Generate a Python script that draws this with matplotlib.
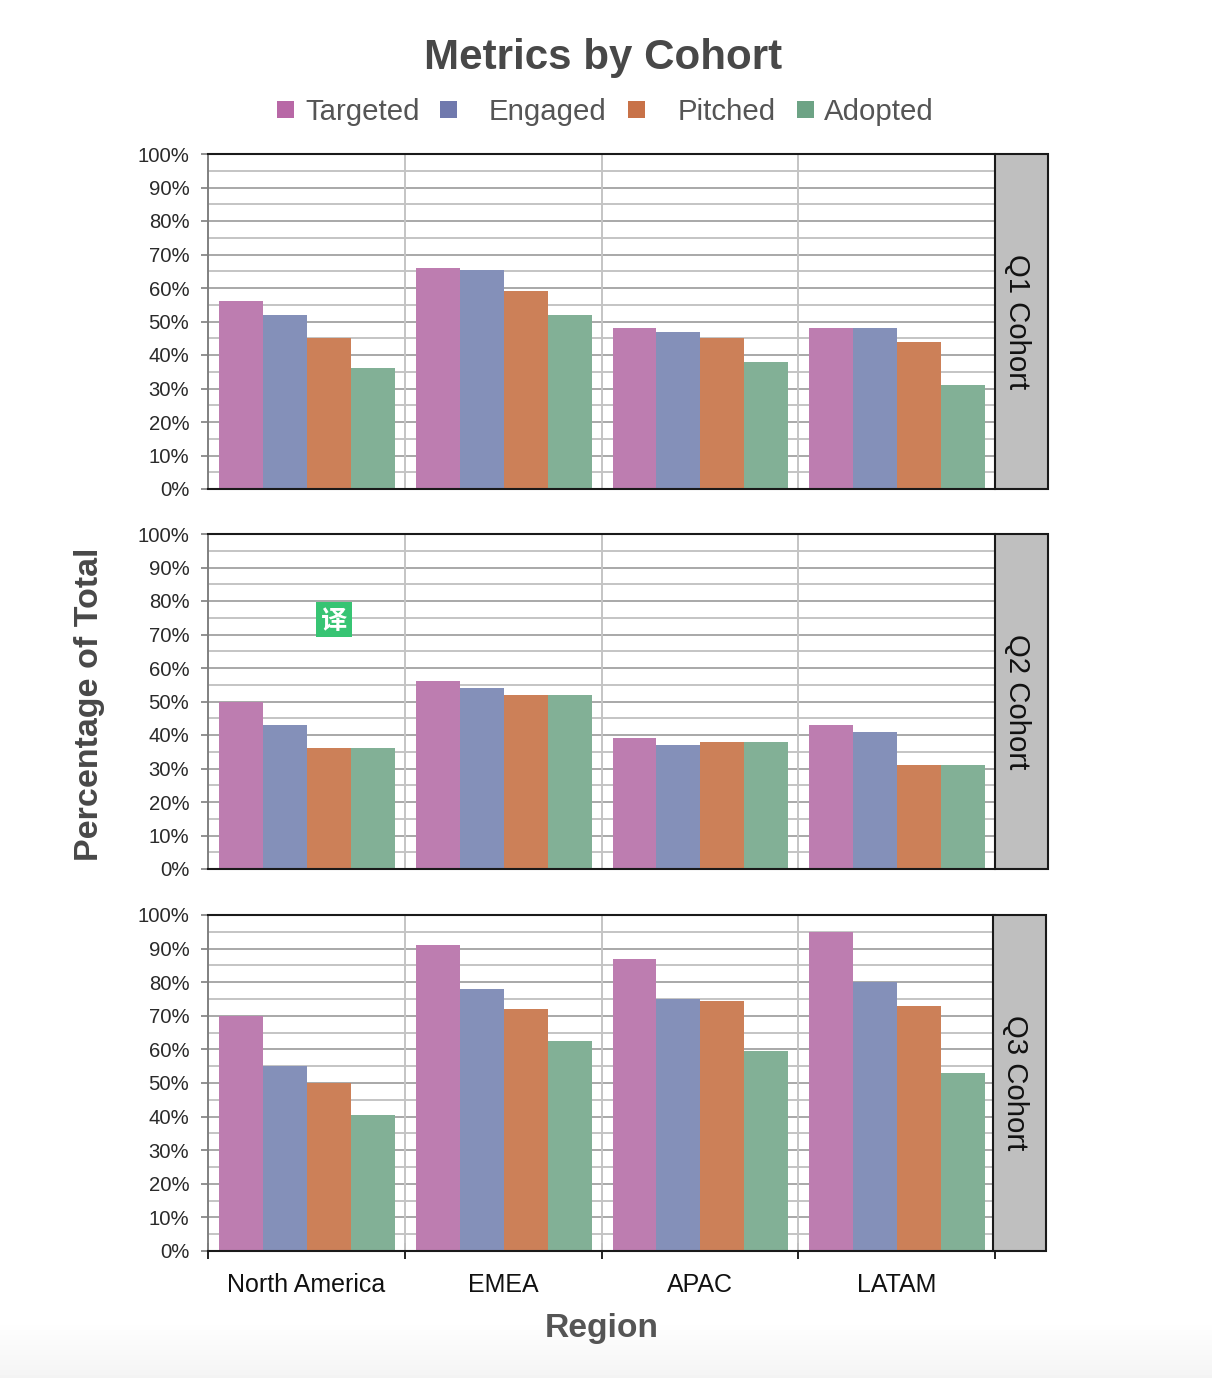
import numpy as np
import matplotlib
matplotlib.use("Agg")
import matplotlib.pyplot as plt
from matplotlib.patches import Rectangle

plt.rcParams['font.family'] = ['Liberation Sans', 'DejaVu Sans']

W, H = 1212, 1378

regions = ["North America", "EMEA", "APAC", "LATAM"]
metrics = ["Targeted", "Engaged", "Pitched", "Adopted"]
cohorts = ["Q1 Cohort", "Q2 Cohort", "Q3 Cohort"]

q1_targeted = [56, 66, 48, 48]
q1_engaged = [52, 65.5, 47, 48]
q1_pitched = [45, 59, 45, 44]
q1_adopted = [36, 52, 38, 31]

q2_targeted = [50, 56, 39, 43]
q2_engaged = [43, 54, 37, 41]
q2_pitched = [36, 52, 38, 31]
q2_adopted = [36, 52, 38, 31]

q3_targeted = [70, 91, 87, 95]
q3_engaged = [55, 78, 75, 80]
q3_pitched = [50, 72, 74.5, 73]
q3_adopted = [40.5, 62.5, 59.5, 53]

cohort_values = [
    [q1_targeted, q1_engaged, q1_pitched, q1_adopted],
    [q2_targeted, q2_engaged, q2_pitched, q2_adopted],
    [q3_targeted, q3_engaged, q3_pitched, q3_adopted],
]

bar_colors = ["#BD7DB0", "#8490B9", "#CC8058", "#82B096"]
legend_colors = ["#B868A6", "#7079AD", "#C87248", "#6DA385"]
legend_box_x = [277, 440, 628, 797]
legend_text_x = [305, 489, 678, 824]


def axes_px(fig, left, top, right, bottom):
    return fig.add_axes([left / W, 1 - bottom / H, (right - left) / W, (bottom - top) / H])


def draw_panel(ax, values, label, last, strip_left, strip_right):
    x = np.arange(len(regions))
    width = 0.2235
    ax.set_axisbelow(True)
    for i, vals in enumerate(values):
        ax.bar(x + 0.003 + (i - 1.5) * width, vals, width, color=bar_colors[i], linewidth=0, zorder=3)

    ax.set_xlim(-0.5, 3.5)
    ax.set_ylim(0, 100)
    ax.set_yticks(np.arange(0, 101, 10))
    ax.set_yticks(np.arange(5, 100, 10), minor=True)
    ax.set_yticklabels([str(v) + "%" for v in range(0, 101, 10)], fontsize=14.6, color="#2a2a2a")
    ax.grid(axis='y', which='major', color="#a8a8a8", linewidth=1.4, zorder=0)
    ax.grid(axis='y', which='minor', color="#c4c4c4", linewidth=1.4, zorder=0)
    for b in [0.5, 1.5, 2.5]:
        ax.axvline(b, color="#c4c4c4", linewidth=1.4, zorder=1)

    ax.tick_params(axis='y', which='major', length=5, width=1.4, color="#909090", pad=8.5)
    ax.tick_params(axis='y', which='minor', length=0)

    ax.set_xticks(x)
    if last:
        ax.set_xticklabels(regions, fontsize=18, color="#111111")
        ax.set_xticks([-0.5, 0.5, 1.5, 2.5, 3.5], minor=True)
        ax.tick_params(axis='x', which='minor', length=11, width=1.4, color="#222222", direction='inout')
        ax.tick_params(axis='x', which='major', length=0, pad=15.5)
    else:
        ax.set_xticklabels([])
        ax.tick_params(axis='x', which='major', length=0)

    ax.spines['left'].set_color("#808080")
    ax.spines['left'].set_linewidth(1.4)
    for s in ['top', 'bottom']:
        ax.spines[s].set_color("#1a1a1a")
        ax.spines[s].set_linewidth(1.5)
        ax.spines[s].set_zorder(4)
    ax.spines['right'].set_visible(False)

    # grey facet strip on the right
    trans = ax.transAxes
    ax_w = 995 - 208
    x0 = (strip_left - 208) / ax_w
    x1 = (strip_right - 208) / ax_w
    ax.add_patch(Rectangle((x0, 0), x1 - x0, 1, transform=trans, facecolor="#BFBFBF",
                           edgecolor="#1a1a1a", linewidth=1.5, clip_on=False, zorder=5))
    ax.text((x0 + x1) / 2 - 4 / ax_w, 0.5, label, transform=trans, rotation=-90, ha='center', va='center',
            fontsize=21.2, color="#111111", zorder=6)


fig = plt.figure(figsize=(W / 100, H / 100), dpi=100)

# faint grey fade at the bottom of the picture
bg = fig.add_axes([0, 0, 1, 1], zorder=-1)
fade = np.ones((H, 1))
fade[1320:, 0] = np.linspace(1.0, 0.955, H - 1320)
bg.imshow(fade, cmap='gray', vmin=0, vmax=1, aspect='auto')
bg.axis('off')

panels = [(154, 489, 995, 1048), (534, 869, 995, 1048), (915, 1251, 993, 1046)]
for k, (top, bottom, s0, s1) in enumerate(panels):
    ax = axes_px(fig, 208, top, 995, bottom)
    draw_panel(ax, cohort_values[k], cohorts[k], k == 2, s0, s1)

fig.text(603.5 / W, 1 - 58 / H, "Metrics by Cohort", ha='center', va='center',
         fontsize=30.3, fontweight='bold', color="#484848")

for i, name in enumerate(metrics):
    fig.patches.append(Rectangle((legend_box_x[i] / W, 1 - 118 / H), 17 / W, 17 / H,
                                 transform=fig.transFigure, facecolor=legend_colors[i],
                                 edgecolor='none'))
    fig.text(legend_text_x[i] / W, 1 - 112 / H, name, ha='left', va='center',
             fontsize=21.2, color="#555555")

fig.text(90 / W, 1 - 704 / H, "Percentage of Total", rotation=90, ha='center', va='center',
         fontsize=24.5, fontweight='bold', color="#484848")
fig.text(602 / W, 1 - 1329 / H, "Region", ha='center', va='center',
         fontsize=24.2, fontweight='bold', color="#555555")

# translate badge sitting on the picture
fig.patches.append(Rectangle((316 / W, 1 - 637 / H), 36 / W, 35 / H, transform=fig.transFigure,
                             facecolor="#37C473", edgecolor='none', zorder=20))
fig.text(334 / W, 1 - 621 / H, "译", ha='center', va='center', fontsize=19, fontweight='bold',
         color="white", family=['Noto Sans CJK SC', 'DejaVu Sans'], zorder=21)

plt.savefig("out.png", dpi=100)
